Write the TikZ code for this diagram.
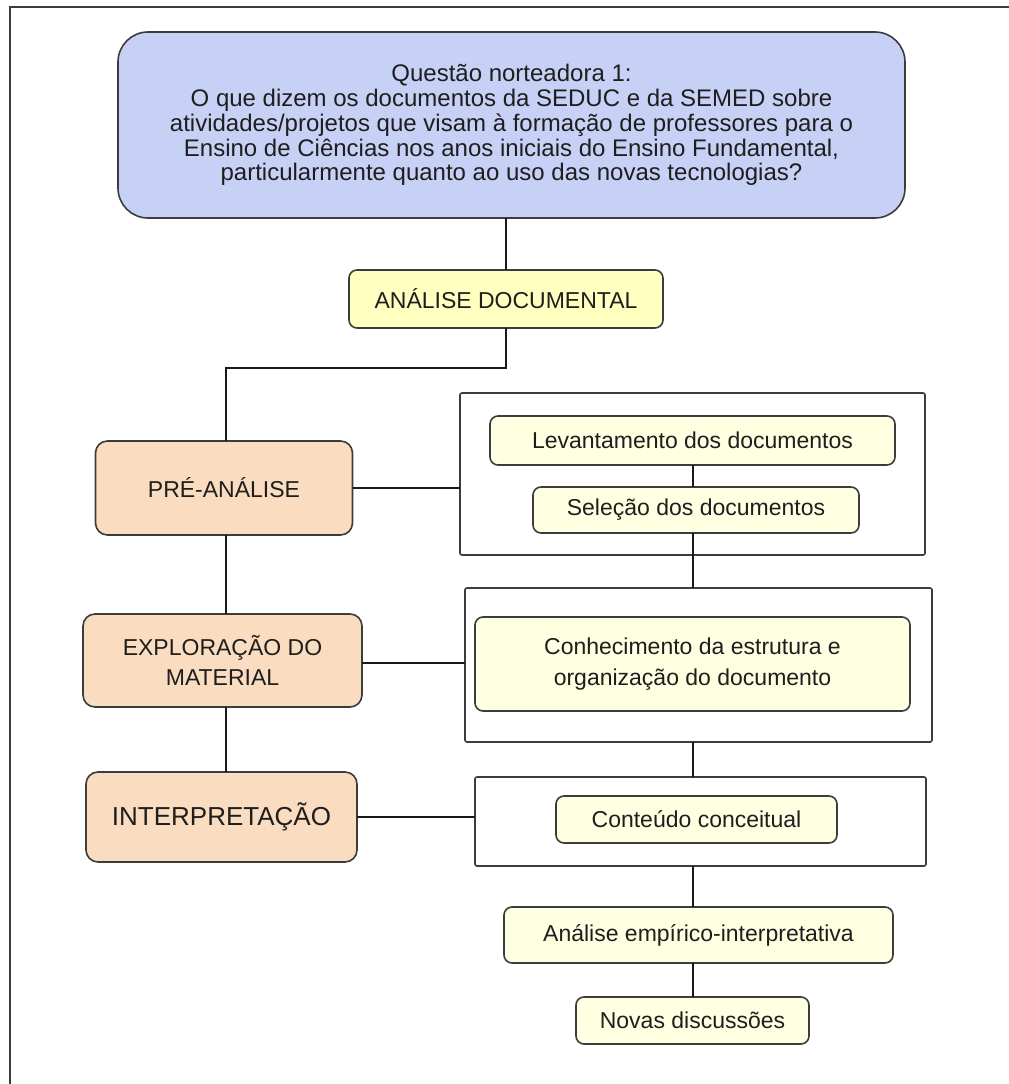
\documentclass[tikz,border=0pt]{standalone}
\usepackage{fontspec}
\setmainfont{Liberation Sans}
\definecolor{qblue}{RGB}{199,209,246}
\definecolor{myellow}{RGB}{255,255,192}
\definecolor{cream}{RGB}{255,255,226}
\definecolor{peach}{RGB}{250,220,192}
\definecolor{edge}{RGB}{60,60,60}
\definecolor{linec}{RGB}{25,25,25}
\definecolor{txt}{RGB}{30,30,30}
\begin{document}
\begin{tikzpicture}[x=1pt,y=-1pt,
  every node/.style={inner sep=0pt, outer sep=0pt, align=center, text=txt},
  box/.style={draw=edge, line width=1.6pt, rounded corners=10pt},
  question/.style={box, fill=qblue, rounded corners=30pt, font=\fontsize{24}{24.8}\selectfont},
  method/.style={box, fill=myellow, rounded corners=8pt, font=\fontsize{23}{28}\selectfont},
  phase/.style={box, fill=peach, rounded corners=12pt, font=\fontsize{23}{30}\selectfont},
  stepbox/.style={box, fill=cream, rounded corners=8pt, font=\fontsize{23}{31}\selectfont},
  group/.style={draw=edge, line width=1.6pt, rounded corners=2pt},
  link/.style={draw=linec, line width=1.6pt}
]
\useasboundingbox (0,0) rectangle (1009,1084);
\fill[white] (0,0) rectangle (1009,1084);

% outer frame
\draw[edge, line width=2pt] (10,1090) -- (10,7) -- (1015,7);

% guiding question and method
\node[question, minimum width=787pt, minimum height=186pt] (q) at (511.5,125)
  {Questão norteadora 1:\\
   O que dizem os documentos da SEDUC e da SEMED sobre\\
   atividades/projetos que visam à formação de professores para o\\
   Ensino de Ciências nos anos iniciais do Ensino Fundamental,\\
   particularmente quanto ao uso das novas tecnologias?};
\node[method, minimum width=314pt, minimum height=58pt] (an) at (506,299) {ANÁLISE DOCUMENTAL};

% phases
\node[phase, minimum width=257pt, minimum height=94pt] (pre) at (224,488) {PRÉ-ANÁLISE};
\node[phase, minimum width=279pt, minimum height=93pt] (expl) at (222.5,660.5) {EXPLORAÇÃO DO\\MATERIAL};
\node[phase, minimum width=271pt, minimum height=90pt, font=\fontsize{26}{30}\selectfont] (interp) at (221.5,817) {INTERPRETAÇÃO};

% groups of steps
\node[group, minimum width=465pt, minimum height=162pt] (c1) at (692.5,474) {};
\node[group, minimum width=467pt, minimum height=154pt] (c2) at (698.5,665) {};
\node[group, minimum width=451pt, minimum height=89pt] (c3) at (700.5,821.5) {};

% steps
\node[stepbox, minimum width=405pt, minimum height=49pt] (lev) at (692.5,440.5) {Levantamento dos documentos};
\node[stepbox, minimum width=326pt, minimum height=46pt] (sel) at (696,510) {Seleção dos documentos};
\node[stepbox, minimum width=435pt, minimum height=94pt] (conh) at (692.5,664) {Conhecimento da estrutura e\\organização do documento};
\node[stepbox, minimum width=281pt, minimum height=47pt] (cont) at (696.5,819.5) {Conteúdo conceitual};
\node[stepbox, minimum width=389pt, minimum height=56pt] (emp) at (698.5,935) {Análise empírico-interpretativa};
\node[stepbox, minimum width=233pt, minimum height=47pt] (nov) at (692.5,1020.5) {Novas discussões};

\coordinate (spine) at (693,0);
\coordinate (lcol) at (226,0);

% connectors
\draw[link] (an.north) -- (an.north |- q.south);
\draw[link] (an.south) -- ++(0,40) -| (lcol |- pre.north);
\draw[link] (lcol |- pre.south) -- (lcol |- expl.north);
\draw[link] (lcol |- expl.south) -- (lcol |- interp.north);
\draw[link] (pre.east) -- (pre.east -| c1.west);
\draw[link] (expl.east |- 0,663) -- (c2.west |- 0,663);
\draw[link] (interp.east) -- (interp.east -| c3.west);
\draw[link] (spine |- lev.south) -- (spine |- sel.north);
\draw[link] (spine |- sel.south) -- (spine |- c2.north);
\draw[link] (spine |- c2.south) -- (spine |- c3.north);
\draw[link] (spine |- c3.south) -- (spine |- emp.north);
\draw[link] (spine |- emp.south) -- (spine |- nov.north);
\end{tikzpicture}
\end{document}
